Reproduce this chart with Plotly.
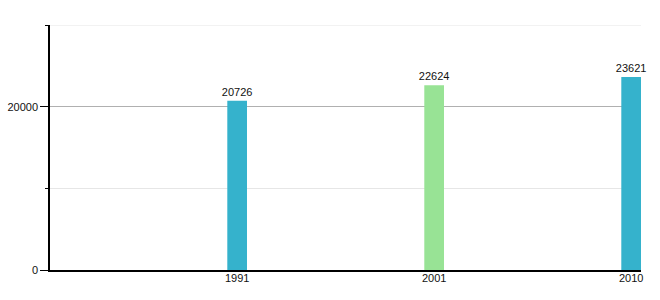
import plotly.graph_objects as go

categories = ["1991", "2001", "2010"]
values = [20726, 22624, 23621]
colors = ["#35b2cc", "#98e395", "#35b2cc"]
ytick_vals = [0, 20000]
ytick_text = ["0", "20000"]
y_max = 30000

positions = list(range(len(categories)))

fig = go.Figure()
fig.add_trace(go.Bar(
    x=positions,
    y=values,
    width=0.1,
    marker=dict(color=colors, line=dict(width=0)),
    text=[str(v) for v in values],
    textposition="outside",
    constraintext="none",
    textfont=dict(size=11, color="#111111", family="Liberation Sans, Arial, sans-serif"),
    cliponaxis=False,
    hoverinfo="skip",
))

# light top gridline
fig.add_shape(type="line", xref="paper", yref="y", x0=0, x1=1, y0=y_max, y1=y_max,
              line=dict(color="#e6e6e6", width=1), layer="below")

fig.update_layout(
    width=660, height=300,
    margin=dict(l=50, r=19, t=25, b=30),
    plot_bgcolor="white", paper_bgcolor="white",
    showlegend=False,
    font=dict(family="Liberation Sans, Arial, sans-serif", size=11, color="#111111"),
    xaxis=dict(
        range=[-0.95, 2.05],
        tickvals=positions,
        ticktext=categories,
        showgrid=False,
        zeroline=False,
        showline=True, linecolor="black", linewidth=1.5,
        ticks="", ticklen=0,
        ticklabelstandoff=-3,
        tickfont=dict(size=11),
        automargin=False,
        fixedrange=True,
    ),
    yaxis=dict(
        range=[0, y_max],
        tickvals=ytick_vals,
        ticktext=ytick_text,
        showgrid=True, gridcolor="#b0b0b0", gridwidth=1,
        zeroline=False,
        showline=True, linecolor="black", linewidth=1.5,
        ticks="outside", ticklen=8, tickcolor="black",
        tickfont=dict(size=11),
        minor=dict(dtick=10000, tick0=0, showgrid=True, gridcolor="#e6e6e6",
                   ticks="outside", ticklen=3, tickcolor="black"),
        automargin=False,
        fixedrange=True,
    ),
)

fig.write_html("out.html")
